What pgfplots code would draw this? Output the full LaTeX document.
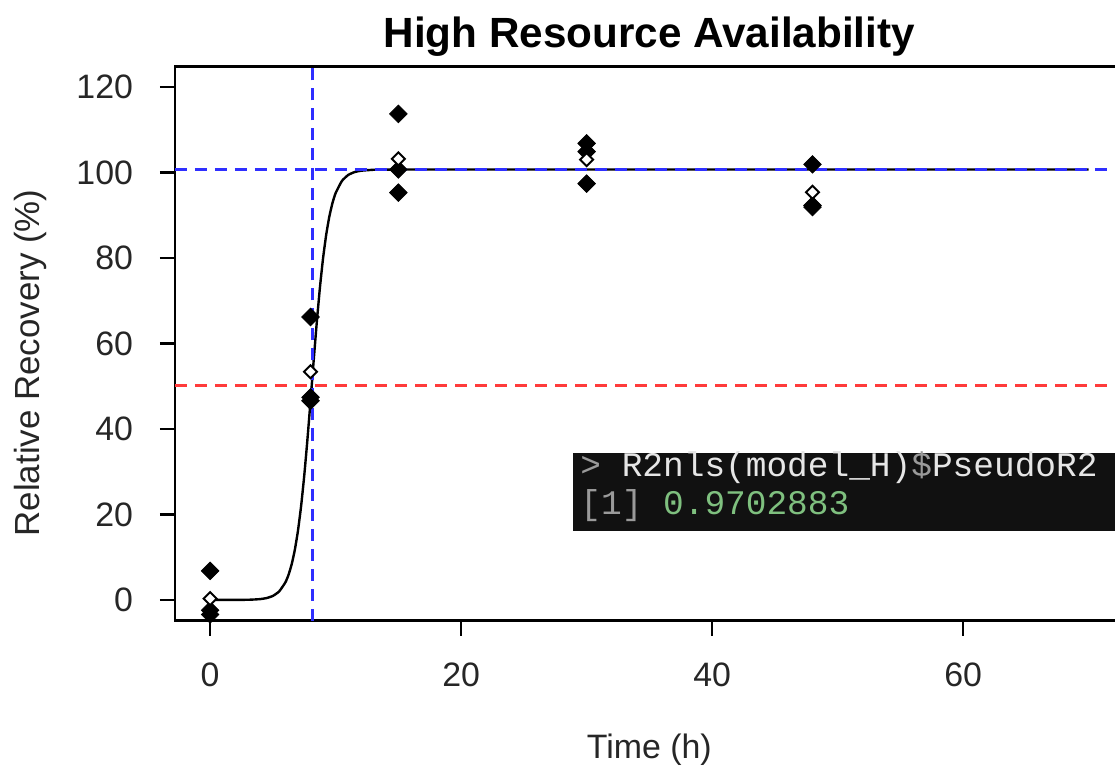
\documentclass[border=0pt]{standalone}
\usepackage{fontspec}
\setmainfont{Liberation Sans}
\newfontfamily\consfont{Liberation Mono}
\usepackage{pgfplots}
\pgfplotsset{compat=1.18}
\definecolor{rblue}{HTML}{2F2FFF}
\definecolor{rred}{HTML}{FF3B3B}
\definecolor{consbg}{HTML}{111111}
\definecolor{consgrey}{HTML}{9A9A9A}
\definecolor{conswhite}{HTML}{E6E6E6}
\definecolor{consgreen}{HTML}{7FC07F}
\begin{document}
\begin{tikzpicture}
\useasboundingbox (-87.5bp,-74.25bp) rectangle (470bp,310.25bp);
\begin{axis}[
  scale only axis,
  width=474.35bp, height=277bp,
  xmin=-2.8, xmax=72.8, ymin=-4.8, ymax=124.8,
  xtick={0,20,40,60}, ytick={0,20,40,60,80,100,120},
  tick align=outside, major tick length=7.5bp,
  tick style={black, line width=1.3bp},
  axis line style={black, line width=1.3bp},
  xtick pos=bottom, ytick pos=left,
  /pgf/number format/assume math mode=true,
  tick label style={font=\fontsize{17}{19}\selectfont, text=black!85},
  yticklabel style={xshift=-10bp},
  xticklabel style={yshift=-10bp},
  xlabel={Time (h)},
  ylabel={Relative Recovery (\%)},
  xlabel style={at={(axis description cs:0.5,0)}, anchor=center, yshift=-64.5bp, font=\fontsize{17}{19}\selectfont, text=black!85},
  ylabel style={at={(axis description cs:0,0.465)}, anchor=center, yshift=72.5bp, font=\fontsize{17.5}{19}\selectfont, text=black!85},
  title={High Resource Availability},
  title style={at={(axis description cs:0.5,1)}, anchor=base, yshift=3.75bp, font=\fontsize{21.2}{23}\bfseries\selectfont},
  clip=true,
]
% replicate observations (filled diamonds)
\addplot[only marks, mark=square*, mark size=3.1bp, mark options={rotate=45, fill=black, draw=black}] coordinates {
  (0,6.8) (0,-2.4) (0,-3.4)
  (8,66.2) (8,47.4) (8,46.6)
  (15,113.7) (15,100.7) (15,95.3)
  (30,106.8) (30,104.9) (30,97.4)
  (48,101.9) (48,92.3) (48,91.9)
};
% means (open diamonds)
\addplot[only marks, mark=square*, mark size=2.3bp, mark options={rotate=45, fill=white, draw=black, line width=1bp}] coordinates {
  (0,0.33) (8,53.4) (15,103.2) (30,103.0) (48,95.4)
};
% fitted curve
\addplot[black, line width=1.2bp, smooth, tension=0.3] coordinates {
  (0,0) (3,0.05) (4,0.21) (4.5,0.45) (5,0.95) (5.5,2.0) (6,4.14) (6.25,5.91)
  (6.5,8.38) (6.75,11.74) (7,16.22) (7.25,21.99) (7.5,29.1) (7.75,37.43)
  (8,46.58) (8.25,55.99) (8.5,65.01) (8.75,73.12) (9,79.97) (9.25,85.47)
  (9.5,89.71) (9.75,92.88) (10,95.19) (10.5,98.02) (11,99.42) (11.5,100.09)
  (12,100.41) (13,100.64) (14,100.69) (20,100.7) (40,100.7) (70,100.7)
};
% reference lines
\addplot[rred, line width=1.5bp, dash pattern=on 6bp off 4bp] coordinates {(-2.8,50.1) (72.8,50.1)};
\addplot[rblue, line width=1.5bp, dash pattern=on 6bp off 4bp] coordinates {(-2.8,100.7) (72.8,100.7)};
\addplot[rblue, line width=1.5bp, dash pattern=on 6bp off 4bp] coordinates {(8.15,-4.8) (8.15,124.8)};
\end{axis}
% console overlay
\fill[consbg] (199bp,44.75bp) rectangle (475bp,83.75bp);
\node[anchor=base west, inner sep=0pt, font=\consfont\fontsize{17.3}{19}\selectfont] at (202.5bp,71.75bp)
  {\textcolor{consgrey}{>} \textcolor{conswhite}{R2nls(model\_H)}\textcolor{consgrey}{\$}\textcolor{conswhite}{PseudoR2}};
\node[anchor=base west, inner sep=0pt, font=\consfont\fontsize{17.3}{19}\selectfont] at (202.5bp,52.75bp)
  {\textcolor{consgrey}{[1]} \textcolor{consgreen}{0.9702883}};
\end{tikzpicture}
\end{document}
